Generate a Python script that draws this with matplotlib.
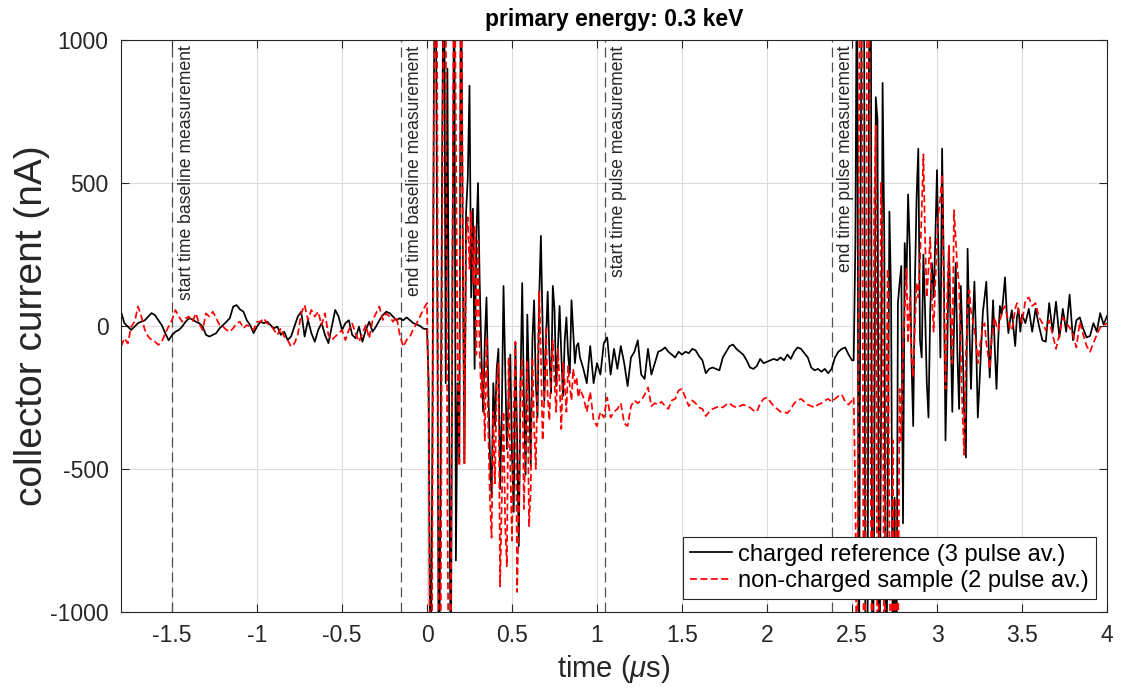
import numpy as np
import matplotlib
matplotlib.use("Agg")
import matplotlib.pyplot as plt

plt.rcParams['font.family'] = ['Liberation Sans', 'DejaVu Sans']
plt.rcParams['mathtext.fontset'] = 'custom'
plt.rcParams['mathtext.rm'] = 'Liberation Sans'
plt.rcParams['mathtext.it'] = 'Liberation Sans:italic'
plt.rcParams['axes.unicode_minus'] = False

# --- time grids (us): coarse in quiet parts, fine in the two bursts ---
t_pre = np.linspace(-1.8, -0.02, 90)
t_b1 = np.linspace(0.0, 0.9, 91)
t_mid = np.linspace(0.92, 2.5, 80)
t_b2 = np.linspace(2.51, 3.5, 100)
t_tail = np.linspace(3.52, 4.0, 25)

# --- charged reference (3 pulse av.), nA ---
ref_pre = [50, 10, -2, -14, -2, 10, 15, 20, 33, 45,
           38, 20, 3, -25, -50, -32, -20, -14, -2, 15,
           27, 23, 15, 10, -2, -31, -37, -31, -25, -8,
           3, 15, 27, 68, 73, 58, 50, 20, 3, -25,
           -2, 15, 10, 15, 3, -8, -2, -31, -20, -49,
           -37, -2, 33, 50, -37, 20, -25, -55, -14, 10,
           -31, -60, -2, 56, 33, -14, 10, 20, -31, -43,
           -2, -55, -14, 15, -20, -2, 20, 38, 50, 45,
           33, 20, 27, 20, 30, 20, 10, 5, 0, -10]
ref_b1 = [-10, -200, -1400, -600, 800, 1500, 200, -1400, -500, 700,
          1500, -200, 900, -300, -1300, 200, 1300, -820, -200, -480,
          1400, 300, -480, 400, 520, 840, 100, 410, -150, 300,
          500, 150, -100, -300, -50, 100, -200, -450, -600, -200,
          -350, -150, -80, -570, -300, 140, -150, -430, -250, -100,
          -450, -650, -60, -400, -770, -200, 150, -250, -520, 40,
          -200, -490, -50, 90, -200, -320, 100, 315, 0, -260,
          -50, 120, -100, -235, 140, 60, -210, -80, 70, -100,
          -245, -50, 30, -100, -165, 90, -20, -130, -70, -60,
          -110]
ref_mid = [-150, -200, -70, -200,
           -130, -170, -60, -40, -170, -80, -150, -70, -130, -210,
           -110, -90, -50, -170, -185, -80, -170, -130, -90, -85,
           -75, -90, -100, -110, -90, -100, -90, -95, -80, -85,
           -105, -120, -165, -150, -145, -150, -155, -110, -90, -70,
           -65, -80, -90, -100, -120, -145, -150, -140, -115, -130,
           -125, -120, -115, -120, -110, -120, -100, -115, -90, -75,
           -80, -95, -110, -145, -155, -150, -160, -150, -165, -150,
           -110, -90, -80, -75, -100, -120]
ref_b2 = [-120, 300, 1500, -1500, 400, 1500, 1500, -1500, -1500, 900,
          1500, -1500, -700, 800, 720, -1500, -400, 850, 300, -1500,
          -600, 400, 100, -1200, -600, -1500, 80, 150, 210, -690,
          290, 150, 460, 270, -120, -350, 150, 450, 620, -50,
          -110, 250, 50, -200, -320, 50, 220, 100, 300, 545,
          200, -110, 620, 200, -400, -100, 280, 0, -300, 0,
          220, -100, -290, 140, -50, -300, -460, 270, 0, -220,
          0, 155, -50, -320, -200, -70, 50, 100, 155, 0,
          -180, -50, 90, -80, -220, -50, 70, 40, 100, 170,
          50, -25, 20, 55, -10, -70, 30, 60, -20, 40]
ref_tail = [10, 60, -20, 60, 0, -50, -55, 80, -20, 85,
            -40, 60, -20, 110, -50, 20, 30, -10, -40, -35,
            10, -20, 45, 5, 35]

# --- non-charged sample (2 pulse av.), nA ---
smp_pre = [-72, -43, -61, -2, 15, 68, 33, -14, -37, -49,
           -55, -66, -55, -26, -2, 21, 56, 33, 15, 27,
           33, 15, 44, 9, -14, 44, 33, 50, 27, 3,
           -2, -14, -20, -8, 9, 15, -8, 3, -2, -14,
           15, 15, 27, 9, 3, -14, -31, -8, -37, -49,
           -72, -61, -31, 44, 73, 21, 56, 33, 50, 3,
           44, -31, -49, -37, -26, -14, -49, -14, 9, -26,
           -55, -26, 3, -43, 21, 44, 68, 21, 44, 33,
           15, 33, -31, -72, -49, -37, -10, 10, 35, 60]
smp_b1 = [80, -300, -1500, -1000, 600, 1500, 900, -1500, -1200, 400,
          1500, 1200, -600, -1500, -1100, 300, 1500, 700, -150, -490,
          1500, 450, -480, 300, 380, 200, 400, 150, 350, -100,
          300, -100, -250, -150, -400, -40, -350, -600, -740, -300,
          -550, -200, -130, -910, -600, -300, -700, -840, -110, -500,
          -750, -300, -55, -930, -650, -200, -110, -640, -400, -120,
          -700, -580, -110, -350, -500, -200, 120, -100, -400, -250,
          0, -250, -330, -150, -50, -200, -300, -80, -200, -360,
          -130, -200, -300, -140, -210, -260, -150, -200, -180, -250,
          -220]
smp_mid = [-250, -300, -230, -330,
           -350, -300, -320, -250, -320, -300, -290, -270, -340, -350,
           -280, -260, -270, -260, -240, -215, -280, -270, -275, -265,
           -280, -290, -260, -255, -225, -220, -250, -280, -260, -270,
           -285, -290, -315, -300, -290, -285, -280, -285, -275, -270,
           -280, -285, -280, -275, -280, -285, -295, -300, -270, -255,
           -250, -265, -280, -290, -300, -300, -305, -290, -270, -260,
           -255, -265, -275, -280, -285, -275, -270, -260, -255, -265,
           -255, -245, -240, -265, -275, -260]
smp_b2 = [-250, -600, -1500, 600, 1500, 800, -1500, -900, 1500, 1500,
          -500, -1500, 400, 700, -1500, -800, 500, 300, -1500, -400,
          200, -700, -1500, -400, -1500, -600, -1200, -220, -400, -100,
          50, 200, -60, 100, -100, -180, 0, 150, 100, 230,
          400, 600, 300, 100, 200, 310, 100, -20, 150, 300,
          400, 450, 530, 100, -220, 100, 280, 50, -130, 405,
          300, 200, 140, -100, -300, -450, -100, 60, 125, 50,
          20, -15, -60, -130, -80, -40, 0, 10, -60, -100,
          -150, -60, 0, 30, 0, -15, 20, 40, 60, 70,
          40, 20, -10, -15, 20, 60, 80, 50, 30, 10]
smp_tail = [90, 100, 70, 80, 30, 10, -15, 20, -30, -80,
            -30, 30, 10, -5, -30, -75, 15, -30, -70, -90,
            -60, -30, -5, 0, 10]

# measurement markers
event_times = [-1.5, -0.155, 1.045, 2.38]
event_labels = ['start time baseline measurement', 'end time baseline measurement',
                'start time pulse measurement', 'end time pulse measurement']

t = np.concatenate([t_pre, t_b1, t_mid, t_b2, t_tail])
ref = np.concatenate([ref_pre, ref_b1, ref_mid, ref_b2, ref_tail])
smp = np.concatenate([smp_pre, smp_b1, smp_mid, smp_b2, smp_tail])

W, H = 1121, 693
fig = plt.figure(figsize=(W / 100, H / 100), dpi=100)
ax = fig.add_axes([121 / W, 1 - 612 / H, (1107 - 121) / W, (612 - 40) / H])

ax.grid(True, color='#dcdcdc', lw=0.8)
ax.set_axisbelow(True)

for xl, lab in zip(event_times, event_labels):
    ax.axvline(xl, color='#505050', lw=0.9, ls=(0, (8, 4)), zorder=1.5)
    ax.annotate(lab, xy=(xl, 1), xycoords=('data', 'axes fraction'),
                xytext=(4, -4), textcoords='offset points', rotation=90,
                ha='left', va='top', fontsize=12.7, color='#262626')

ax.plot(t, ref, color='black', lw=1.25, label='charged reference (3 pulse av.)')
ax.plot(t, smp, color='red', lw=1.25, ls=(0, (4, 2)),
        label='non-charged sample (2 pulse av.)')

ax.set_xlim(-1.8, 4)
ax.set_ylim(-1000, 1000)
ax.set_xticks([-1.5, -1, -0.5, 0, 0.5, 1, 1.5, 2, 2.5, 3, 3.5, 4])
ax.set_xticklabels(['-1.5', '-1', '-0.5', '0', '0.5', '1', '1.5', '2', '2.5', '3', '3.5', '4'])
ax.set_yticks([-1000, -500, 0, 500, 1000])
ax.tick_params(direction='in', length=6, width=0.8, top=True, right=True,
               labelsize=16.5, colors='#262626', pad=9)
for s in ax.spines.values():
    s.set_color('#262626')
    s.set_linewidth(0.8)

ax.set_xlabel(r'time ($\mu$s)', fontsize=21, color='#262626', labelpad=4)
ax.set_ylabel('collector current (nA)', fontsize=28, color='#262626', labelpad=0)
ax.set_title('primary energy: 0.3 keV', fontsize=16.5, fontweight='bold', pad=10)

leg = ax.legend(loc='lower right', bbox_to_anchor=(0.989, 0.022), borderaxespad=0,
                fontsize=17, frameon=True, fancybox=False, framealpha=1,
                edgecolor='#262626', handlelength=1.8, handletextpad=0.25,
                labelspacing=0.2, borderpad=0.3)
leg.get_frame().set_linewidth(0.8)

fig.savefig('out.png', dpi=100)
